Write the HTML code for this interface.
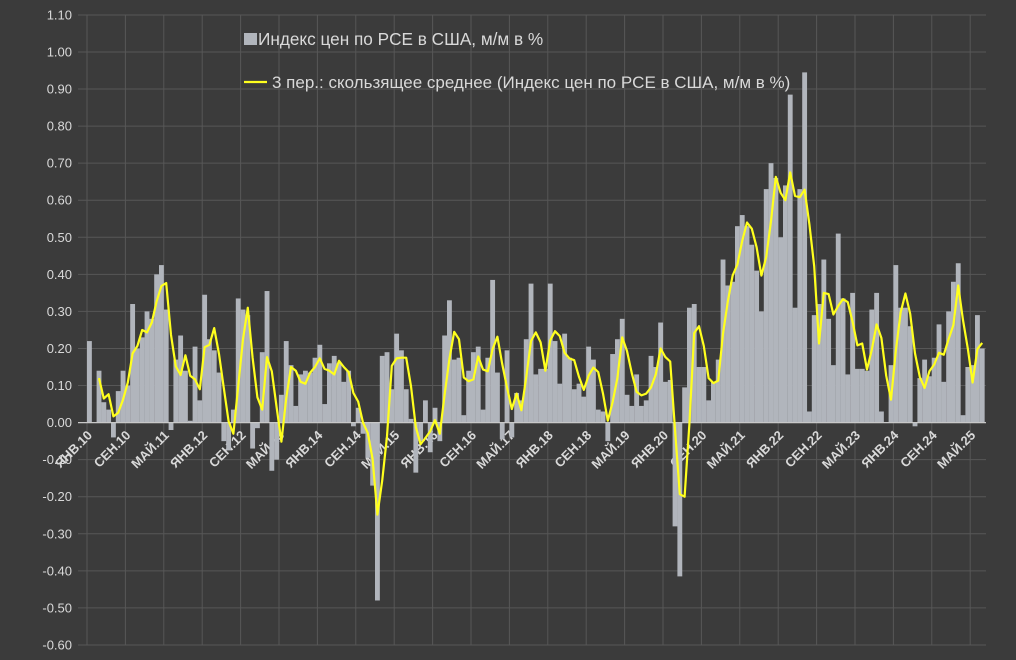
<!DOCTYPE html>
<html><head><meta charset="utf-8"><style>
html,body{margin:0;padding:0;background:#3b3b3b;}
svg{display:block;font-family:"Liberation Sans",sans-serif;}
</style></head><body>
<svg id="c" width="1016" height="660" xmlns="http://www.w3.org/2000/svg"></svg>
<script>
const d=[0.22,0.00,0.14,0.055,0.035,-0.04,0.085,0.14,0.10,0.32,0.20,0.23,
0.30,0.28,0.40,0.425,0.305,-0.02,0.17,0.235,0.14,0.005,0.205,0.06,
0.345,0.225,0.195,0.135,-0.05,-0.075,0.035,0.335,0.305,0.29,-0.07,-0.015,
0.19,0.355,-0.13,-0.10,0.075,0.22,0.155,0.045,0.13,0.14,0.135,0.175,
0.21,0.05,0.16,0.18,0.16,0.11,0.14,-0.01,0.04,-0.03,-0.095,-0.17,
-0.48,0.18,0.19,0.09,0.24,0.195,0.09,0.01,-0.135,-0.05,0.06,-0.08,
0.04,-0.05,0.235,0.33,0.17,0.175,0.02,0.14,0.19,0.205,0.035,0.175,
0.385,0.135,-0.045,0.195,-0.04,0.08,0.06,0.225,0.375,0.13,0.145,0.145,
0.375,0.22,0.105,0.24,0.175,0.09,0.105,0.07,0.205,0.17,0.035,0.03,
-0.05,0.185,0.225,0.28,0.075,0.045,0.13,0.045,0.06,0.18,0.15,0.27,
0.11,0.115,-0.28,-0.415,0.095,0.31,0.32,0.15,0.15,0.06,0.11,0.17,
0.44,0.37,0.38,0.53,0.56,0.53,0.48,0.41,0.30,0.63,0.70,0.66,
0.50,0.64,0.885,0.31,0.63,0.945,0.03,0.29,0.32,0.44,0.28,0.155,
0.51,0.335,0.13,0.35,0.145,0.145,0.14,0.305,0.35,0.03,0.0,0.155,
0.425,0.31,0.31,0.26,-0.01,0.12,0.17,0.125,0.175,0.265,0.11,0.30,
0.38,0.43,0.02,0.15,0.155,0.29,0.20];
const X0=87,W=4.8,Z=422.6,S=370.6;
const Y=v=>Z-v*S;
let s='<rect width="1016" height="660" fill="#3b3b3b"/>';
for(let i=0;i<=17;i++){const v=-0.6+i*0.1,y=Y(v);
 s+=`<line x1="78" x2="986" y1="${y}" y2="${y}" stroke="#575757" stroke-width="1"/>`;
 s+=`<text x="72" y="${y+4.5}" text-anchor="end" font-size="13" fill="#d9d9d9">${v.toFixed(2).replace('-0.00','0.00')}</text>`;}
for(let k=0;k<24;k++){const x=X0+k*8*W;
 s+=`<line x1="${x}" x2="${x}" y1="15" y2="645" stroke="#575757" stroke-width="1"/>`;
 const m=(k*8)%12, yr=10+Math.floor(k*8/12);
 const name=(m==0?'ЯНВ':m==8?'СЕН':'МАЙ')+'.'+yr;
 s+=`<text transform="translate(${x+6},436) rotate(-45)" text-anchor="end" font-size="13" font-weight="bold" fill="#d9d9d9">${name}</text>`;}
d.forEach((v,i)=>{const x=X0+i*W,y=Y(Math.max(v,0)),h=Math.abs(v)*S;
 s+=`<rect x="${x}" y="${y}" width="${W+0.05}" height="${h}" fill="#b1b5bc"/>`;});
s+=`<line x1="78" x2="986" y1="${Z}" y2="${Z}" stroke="#c8c8c8" stroke-width="1.2"/>`;
let p=[];for(let i=2;i<d.length;i++){p.push((X0+i*W+W/2).toFixed(1)+','+Y((d[i]+d[i-1]+d[i-2])/3).toFixed(1));}
s+=`<polyline points="${p.join(' ')}" fill="none" stroke="#ffff1e" stroke-width="2.2" stroke-linejoin="round"/>`;
s+=`<rect x="244" y="33" width="13" height="12" fill="#b1b5bc"/><text x="258" y="45" font-size="17.2" fill="#d9d9d9">Индекс цен по PCE в США, м/м в %</text>`;
s+=`<line x1="244" x2="267" y1="82" y2="82" stroke="#ffff1e" stroke-width="2.2"/><text x="272" y="88" font-size="17" fill="#d9d9d9">3 пер.: скользящее среднее (Индекс цен по PCE в США, м/м в %)</text>`;
document.getElementById('c').innerHTML=s;
</script>
</body></html>
